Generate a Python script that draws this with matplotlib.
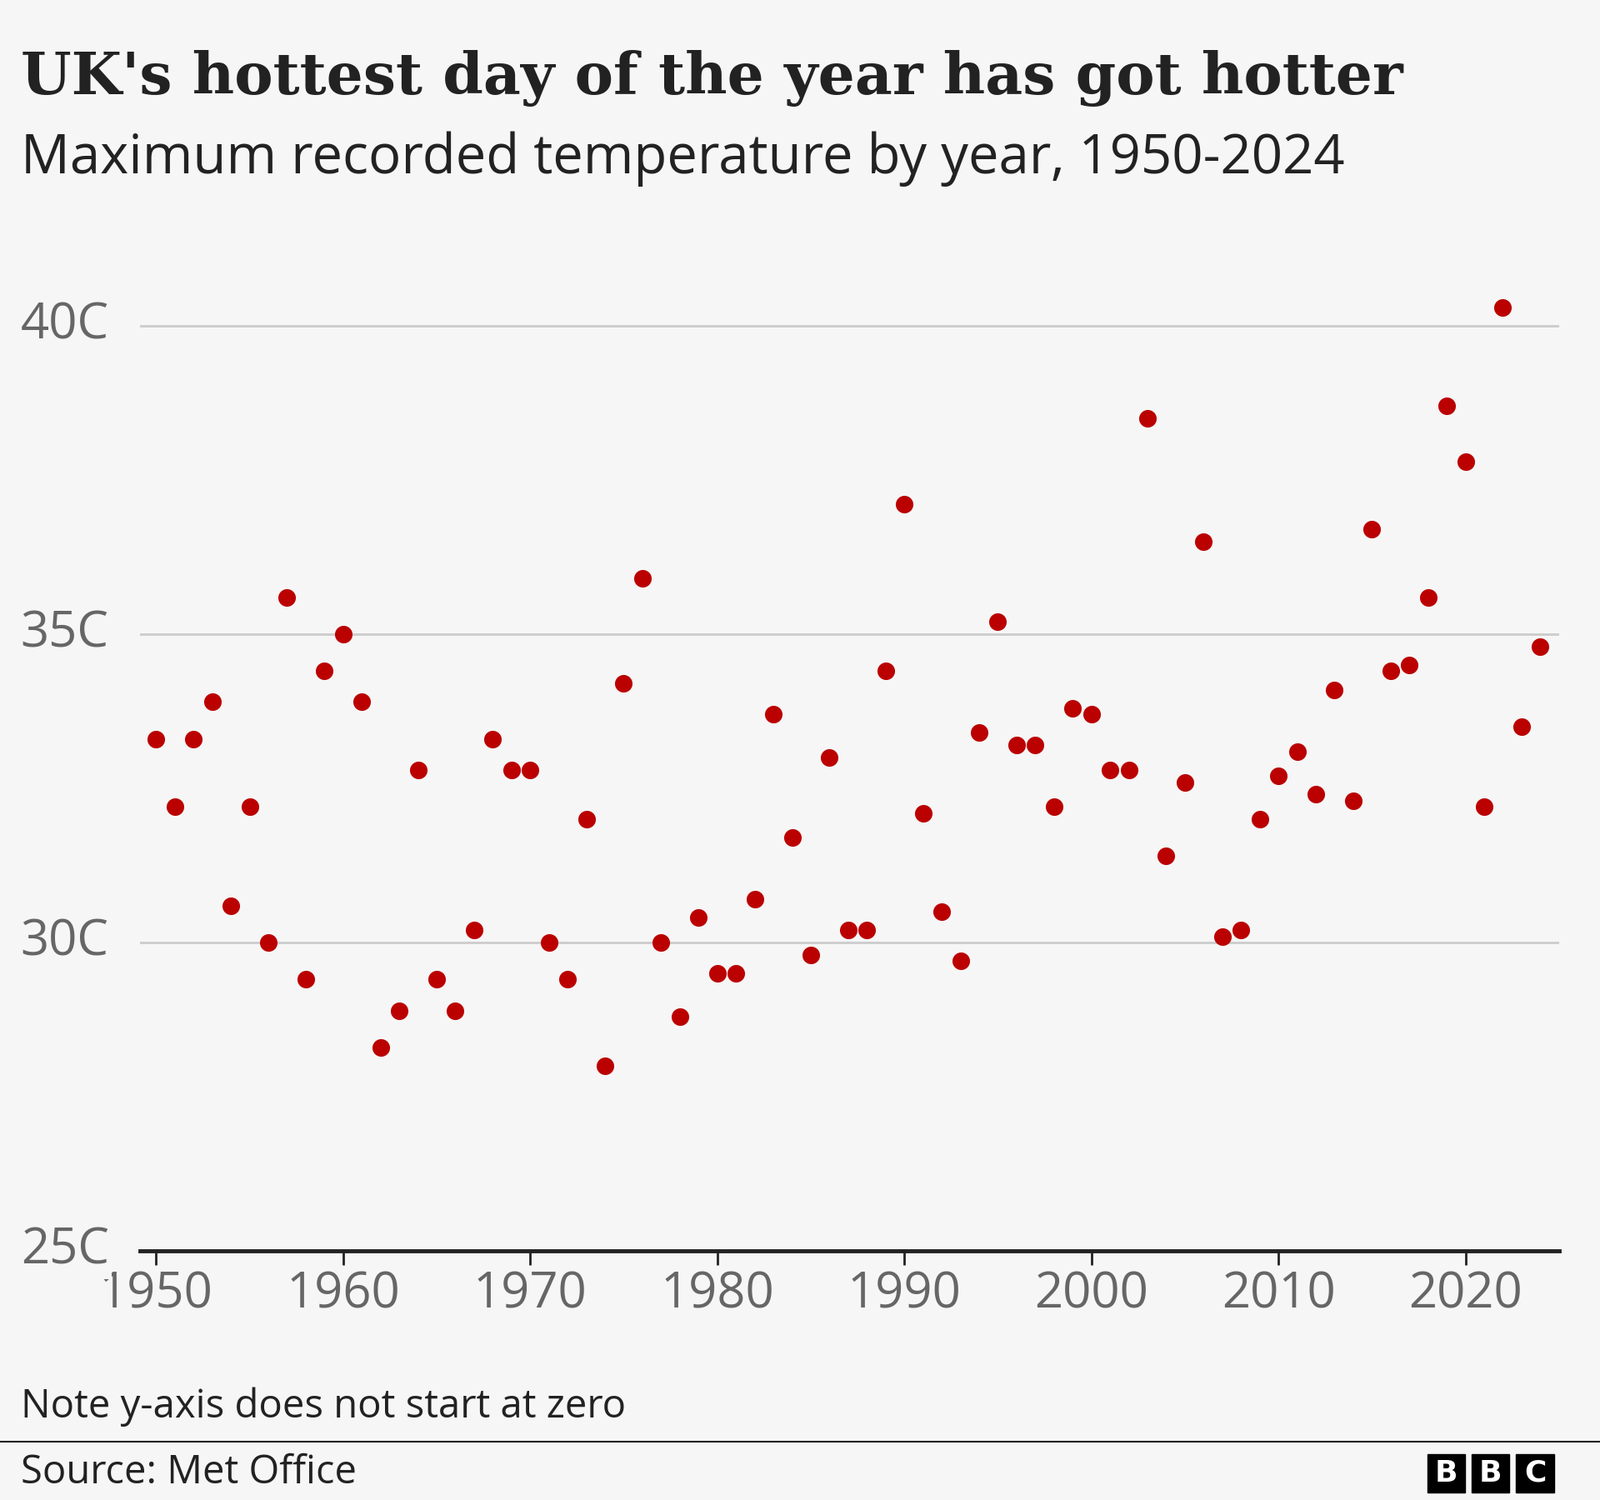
import matplotlib

matplotlib.use("Agg")
import matplotlib.pyplot as plt
from matplotlib.patches import Rectangle

# Annual maximum temperature (C)
YEARS = list(range(1950, 2025))
TEMPS = [
    33.3, 32.2, 33.3, 33.9, 30.6, 32.2, 30.0, 35.6, 29.4, 34.4,
    35.0, 33.9, 28.3, 28.9, 32.8, 29.4, 28.9, 30.2, 33.3, 32.8,
    32.8, 30.0, 29.4, 32.0, 28.0, 34.2, 35.9, 30.0, 28.8, 30.4,
    29.5, 29.5, 30.7, 33.7, 31.7, 29.8, 33.0, 30.2, 30.2, 34.4,
    37.1, 32.1, 30.5, 29.7, 33.4, 35.2, 33.2, 33.2, 32.2, 33.8,
    33.7, 32.8, 32.8, 38.5, 31.4, 32.6, 36.5, 30.1, 30.2, 32.0,
    32.7, 33.1, 32.4, 34.1, 32.3, 36.7, 34.4, 34.5, 35.6, 38.7,
    37.8, 32.2, 40.3, 33.5, 34.8,
]
Y_TICKS = [25, 30, 35, 40]
X_TICKS = [1950, 1960, 1970, 1980, 1990, 2000, 2010, 2020]

BG = "#f6f6f6"
SANS = "Open Sans"

fig = plt.figure(figsize=(19.2, 18), dpi=100, facecolor=BG)
ax = fig.add_axes([0.0874, 0.166, 0.8871, 0.658], facecolor=BG)

ax.set_xlim(1949.13, 2025.01)
ax.set_ylim(25, 41)
for y in Y_TICKS[1:]:
    ax.axhline(y, color="#cccccc", lw=2, zorder=1)
ax.scatter(YEARS, TEMPS, s=230, color="#bb0000", zorder=3, linewidths=0)

for s in ["top", "right", "left"]:
    ax.spines[s].set_visible(False)
ax.spines["bottom"].set_linewidth(3.5)
ax.spines["bottom"].set_color("#222222")
ax.set_yticks([])
ax.set_xticks(X_TICKS)
ax.set_xticklabels([str(x) for x in X_TICKS], fontsize=43, color="#666666",
                   fontfamily=SANS)
ax.tick_params(axis="x", length=12, width=2, color="#222222", pad=4)

for y in Y_TICKS:
    ax.text(-0.084, y, f"{y}C", transform=ax.get_yaxis_transform(),
            fontsize=43, color="#666666", fontfamily=SANS, va="center",
            ha="left", zorder=5,
            bbox=dict(facecolor=BG, edgecolor="none", pad=2))

fig.text(0.013, 0.948, "UK's hottest day of the year has got hotter",
         fontsize=50, fontweight="bold", fontfamily="DejaVu Serif",
         color="#222222", va="center")
fig.text(0.013, 0.894, "Maximum recorded temperature by year, 1950-2024",
         fontsize=47, fontfamily=SANS, color="#222222", va="center")
fig.text(0.013, 0.062, "Note y-axis does not start at zero",
         fontsize=34, fontfamily=SANS, color="#222222", va="center")
fig.add_artist(plt.Line2D([0, 1], [0.039, 0.039], color="#222222", lw=1.5))
fig.text(0.013, 0.018, "Source: Met Office",
         fontsize=34, fontfamily=SANS, color="#222222", va="center")

# BBC logo blocks
for i, ch in enumerate("BBC"):
    x0 = 0.892 + i * 0.0278
    fig.add_artist(Rectangle((x0, 0.005), 0.0236, 0.0255,
                             transform=fig.transFigure, color="#000000"))
    fig.text(x0 + 0.0118, 0.0178, ch, fontsize=26, fontweight="bold",
             fontfamily="DejaVu Sans", color="white", ha="center", va="center")

fig.savefig("out.png", dpi=100, facecolor=BG)
